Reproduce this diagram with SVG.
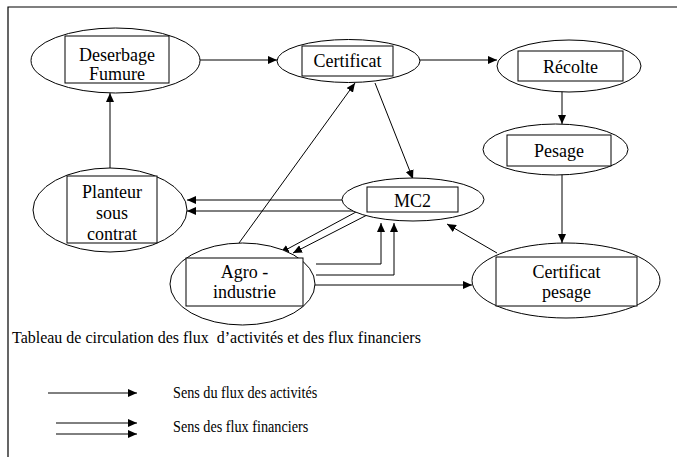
<svg xmlns="http://www.w3.org/2000/svg" width="677" height="457" viewBox="0 0 677 457">
  <style>
    .shape { fill: #ffffff; stroke: #000000; stroke-width: 1; }
    .edge { fill: none; stroke: #000000; stroke-width: 1; marker-end: url(#head); }
    .frame { fill: none; stroke: #000000; stroke-width: 1.2; }
    .lbl { font-family: "Liberation Serif", "Times New Roman", "DejaVu Serif", serif; font-size: 18px; text-anchor: middle; fill: #000000; }
    .cap { font-family: "Liberation Serif", "Times New Roman", "DejaVu Serif", serif; font-size: 16px; fill: #000000; }
    .key { font-family: "Liberation Serif", "Times New Roman", "DejaVu Serif", serif; font-size: 14.2px; fill: #000000; }
  </style>
  <defs>
    <marker id="head" markerUnits="userSpaceOnUse" markerWidth="10" markerHeight="8" refX="9" refY="4" orient="auto">
      <path d="M0,0 L9,4 L0,8 Z" fill="#000000"/>
    </marker>
  </defs>

  <rect width="677" height="457" fill="#ffffff"/>
  <!-- page frame: top and left rules only -->
  <path class="frame" d="M8,457 L8,7 L677,7"/>

  <g id="connectors">
    <!-- activity flows -->
    <path class="edge" d="M200,60 L277,60"/>
    <path class="edge" d="M420,60 L497,60"/>
    <path class="edge" d="M562,81 L562,124"/>
    <path class="edge" d="M562,166 L562,243"/>
    <path class="edge" d="M497,253 L447,224"/>
    <path class="edge" d="M375,83 L413,179"/>
    <path class="edge" d="M239,243 L355,83"/>
    <path class="edge" d="M110,168 L110,93"/>
    <path class="edge" d="M315,285 L472,285"/>
    <!-- financial flows (double lines) -->
    <path class="edge" d="M343,200 L187,200"/>
    <path class="edge" d="M355,211 L187,211"/>
    <path class="edge" d="M356,212 L280,253"/>
    <path class="edge" d="M369,214 L293,253"/>
    <path class="edge" d="M316,264 L381,264 L381,223"/>
    <path class="edge" d="M316,275 L394,275 L394,223"/>
  </g>

  <g id="deserbage">
    <ellipse class="shape" cx="115.5" cy="60.5" rx="84.5" ry="32.5"/>
    <rect class="shape" x="65" y="36" width="104" height="47"/>
    <text class="lbl" x="117" y="61">Deserbage</text>
    <text class="lbl" x="117" y="80">Fumure</text>
  </g>

  <g id="certificat">
    <ellipse class="shape" cx="348.5" cy="61" rx="71.5" ry="21.5"/>
    <rect class="shape" x="302" y="46" width="91" height="30"/>
    <text class="lbl" x="347.5" y="67">Certificat</text>
  </g>

  <g id="recolte">
    <ellipse class="shape" cx="569" cy="66" rx="72" ry="26"/>
    <rect class="shape" x="518" y="51" width="105" height="30"/>
    <text class="lbl" x="570.5" y="73">Récolte</text>
  </g>

  <g id="pesage">
    <ellipse class="shape" cx="555.5" cy="149.5" rx="72.5" ry="25.5"/>
    <rect class="shape" x="507" y="135" width="104" height="31"/>
    <text class="lbl" x="559" y="157">Pesage</text>
  </g>

  <g id="mc2">
    <ellipse class="shape" cx="413" cy="199.5" rx="71" ry="21.5"/>
    <rect class="shape" x="367" y="187" width="91" height="25"/>
    <text class="lbl" x="412.5" y="207">MC2</text>
  </g>

  <g id="certificat-pesage">
    <ellipse class="shape" cx="566" cy="280.5" rx="94" ry="37.5"/>
    <rect class="shape" x="496" y="257" width="141" height="49"/>
    <text class="lbl" x="566.5" y="278">Certificat</text>
    <text class="lbl" x="566.5" y="298">pesage</text>
  </g>

  <g id="planteur">
    <ellipse class="shape" cx="110" cy="210" rx="77" ry="42"/>
    <rect class="shape" x="67" y="176" width="90" height="67"/>
    <text class="lbl" x="112" y="198">Planteur</text>
    <text class="lbl" x="112" y="219">sous</text>
    <text class="lbl" x="112" y="240">contrat</text>
  </g>

  <g id="agro-industrie">
    <ellipse class="shape" cx="242.5" cy="284" rx="72.5" ry="41"/>
    <rect class="shape" x="186" y="258" width="117" height="48"/>
    <text class="lbl" x="244.5" y="278">Agro -</text>
    <text class="lbl" x="244.5" y="298">industrie</text>
  </g>

  <g id="legend">
    <!-- captions are set slightly tall, as in the printed page -->
    <text class="cap" xml:space="preserve" transform="translate(12,343) scale(1,1.1)">Tableau de circulation des flux  d’activités et des flux financiers</text>
    <path class="edge" d="M48,393 L137,393"/>
    <text class="key" transform="translate(173,398) scale(1,1.15)">Sens du flux des activités</text>
    <path class="edge" d="M56,423 L137,423"/>
    <path class="edge" d="M56,434 L137,434"/>
    <text class="key" transform="translate(173,432) scale(1,1.15)">Sens des flux financiers</text>
  </g>
</svg>
